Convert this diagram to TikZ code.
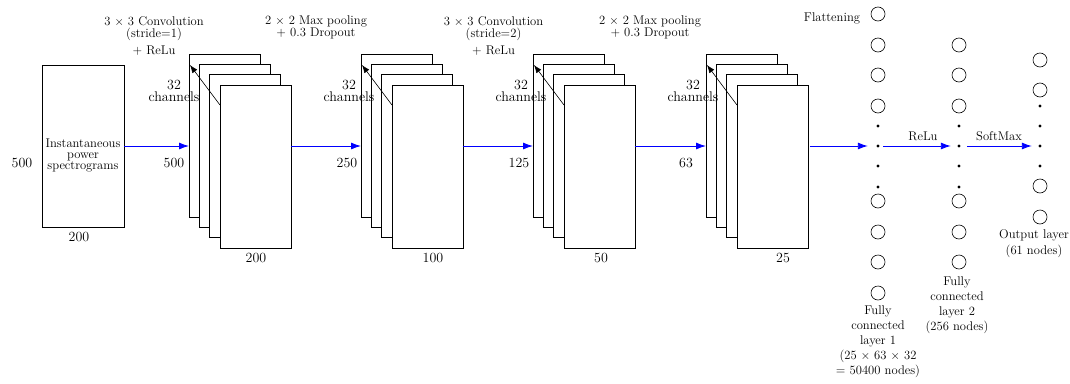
\documentclass[tikz,border=0pt]{standalone}
\usetikzlibrary{arrows.meta}
\begin{document}
\begin{tikzpicture}[x=1pt,y=-1pt,
  fmap/.style={draw, fill=white, line width=0.6pt, minimum width=71pt, minimum height=163pt, inner sep=0pt, outer sep=0pt},
  inbox/.style={draw, line width=0.6pt, minimum width=81.3pt, minimum height=162pt, inner sep=0pt, outer sep=0pt},
  neuron/.style={circle, draw, line width=0.6pt, minimum size=14pt, inner sep=0pt},
  dotn/.style={circle, fill=black, minimum size=3.4pt, inner sep=0pt},
  flow/.style={-{Latex[length=10pt,width=7pt]}, blue, line width=0.9pt},
  chanarrow/.style={-{Latex[length=8pt,width=6pt]}, black, line width=0.6pt},
  lbl/.style={font=\fontsize{12.6}{12.2}\selectfont, align=center, inner sep=0pt},
  num/.style={font=\fontsize{14}{12}\selectfont, align=center, inner sep=0pt}]
\useasboundingbox (0,0) rectangle (1070,383);

% input
\node[inbox] (in) at (83.4,146) {};
\node[lbl, font=\fontsize{12.6}{11}\selectfont] (intext) at (83,155) {Instantaneous\\power\\spectrograms};
\node[num] (inh) at (22,163) {500};
\node[num] (inw) at (79,237) {200};

% feature-map stacks
\foreach \s/\L in {1/189,2/361,3/533,4/706}{
  \foreach \k/\n in {0/a,1/b,2/c,3/d}{
    \node[fmap] (s\s-\n) at ({\L+35.5+10.3*\k},{135.5+10.3*\k}) {};
  }
  \draw[chanarrow] ([yshift=-20pt]s\s-d.north west) -- ([shift={(1pt,-11pt)}]s\s-a.north west);
}

% stack labels
\node[num] (ch1) at (174,91) {32\\channels};
\node[num] (ch2) at (349,91) {32\\channels};
\node[num] (ch3) at (521,91) {32\\channels};
\node[num] (ch4) at (693,91) {32\\channels};
\node[num] (h1) at (174,163) {500};
\node[num] (h2) at (347,163) {250};
\node[num] (h3) at (519,163) {125};
\node[num] (h4) at (686,163) {63};
\node[num] (w1) at (256,258) {200};
\node[num] (w2) at (433,258) {100};
\node[num] (w3) at (601,258) {50};
\node[num] (w4) at (783,258) {25};

% operation labels
\node[lbl] (conv1) at (154,36) {3 $\times$ 3 Convolution\\(stride=1)\\[4pt]+ ReLu};
\node[lbl] (pool1) at (316,27) {2 $\times$ 2 Max pooling\\+ 0.3 Dropout};
\node[lbl] (conv2) at (493.5,36) {3 $\times$ 3 Convolution\\(stride=2)\\[4pt]+ ReLu};
\node[lbl] (pool2) at (650,27) {2 $\times$ 2 Max pooling\\+ 0.3 Dropout};

% fully connected layer 1
\foreach \y [count=\i] in {14,45,75,106,201,232,262,293}{
  \node[neuron] (f1n\i) at (878,\y) {};
}
\foreach \y/\n in {126/a,146/m,166/b,187/c}{
  \node[dotn] (f1\n) at (878,\y) {};
}
% fully connected layer 2
\foreach \y [count=\i] in {45,75,106,201,232,262}{
  \node[neuron] (f2n\i) at (959,\y) {};
}
\foreach \y/\n in {126/a,146/m,166/b,187/c}{
  \node[dotn] (f2\n) at (959,\y) {};
}
% output layer
\foreach \y [count=\i] in {60,90,186,217}{
  \node[neuron] (on\i) at (1040,\y) {};
}
\foreach \y/\n in {106/a,126/b,146/m,166/c}{
  \node[dotn] (o\n) at (1040,\y) {};
}

% flows
\draw[flow] (in.east) -- (in.east -| s1-a.west);
\draw[flow] (s1-d.east |- in.east) -- (s2-a.west |- in.east);
\draw[flow] (s2-d.east |- in.east) -- (s3-a.west |- in.east);
\draw[flow] (s3-d.east |- in.east) -- (s4-a.west |- in.east);
\draw[flow, shorten <=2pt, shorten >=8.3pt] (s4-d.east |- in.east) -- (f1m);
\draw[flow, shorten <=3.3pt, shorten >=6.3pt] (f1m) -- (f2m);
\draw[flow, shorten <=6.3pt, shorten >=6.3pt] (f2m) -- (om);

% layer labels
\node[lbl] (flat) at (832,18) {Flattening};
\node[lbl] (relu) at (923,136) {ReLu};
\node[lbl] (soft) at (999,136) {SoftMax};
\node[lbl, font=\fontsize{12.6}{15}\selectfont] (fc1) at (878,342) {Fully\\connected\\layer 1\\(25 $\times$ 63 $\times$ 32\\= 50400 nodes)};
\node[lbl, font=\fontsize{12.6}{15}\selectfont] (fc2) at (957,305) {Fully\\connected\\layer 2\\(256 nodes)};
\node[lbl, font=\fontsize{12.6}{16}\selectfont] (outl) at (1034,244) {Output layer\\(61 nodes)};
\end{tikzpicture}
\end{document}
